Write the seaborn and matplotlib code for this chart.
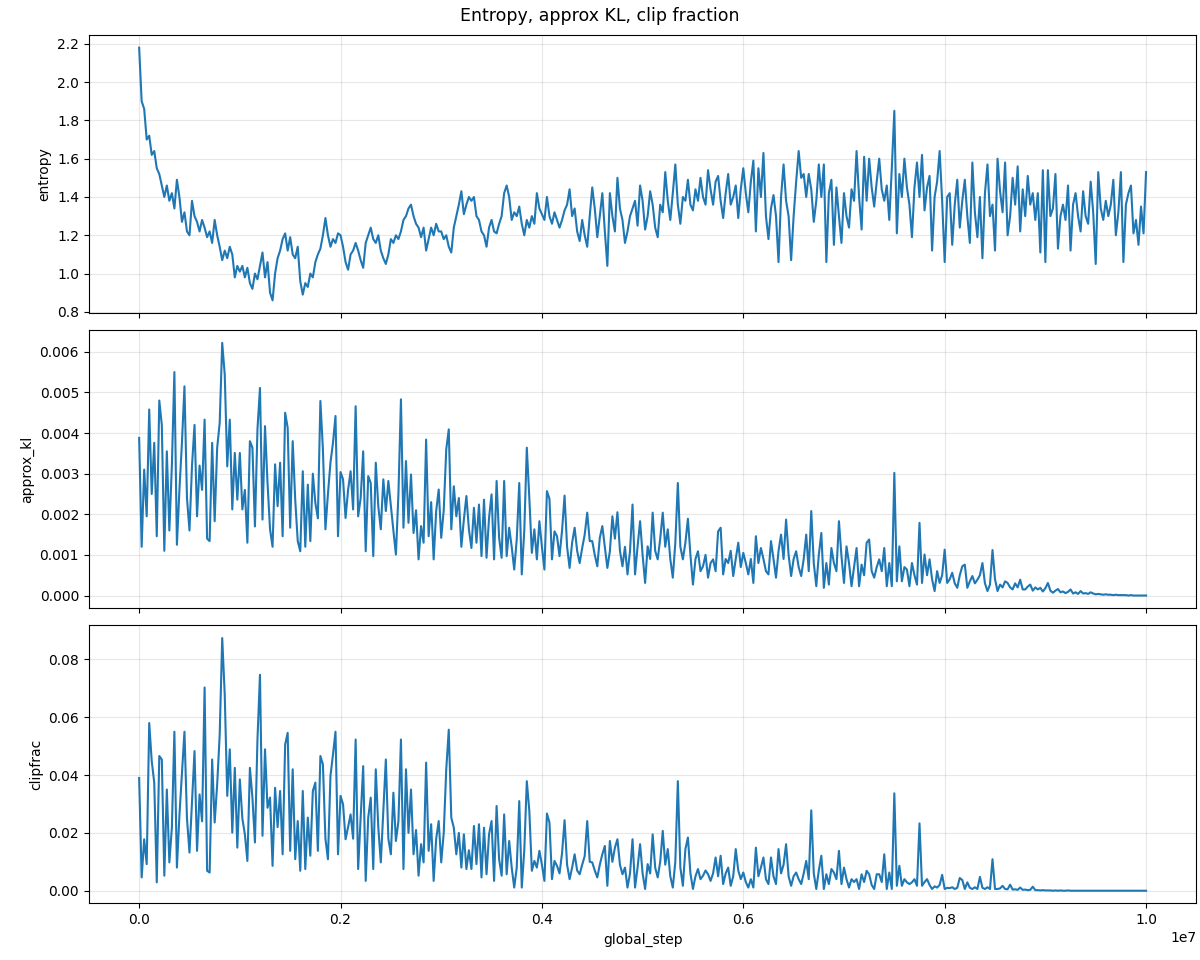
import numpy as np
import pandas as pd
import matplotlib
matplotlib.use("Agg")
import matplotlib.pyplot as plt
import seaborn as sns

total_steps = 10_000_000

entropy = [
    2.18, 1.90, 1.86, 1.70, 1.72, 1.62, 1.64, 1.55, 1.52, 1.46,
    1.40, 1.46, 1.38, 1.42, 1.34, 1.49, 1.40, 1.27, 1.32, 1.22,
    1.20, 1.38, 1.30, 1.27, 1.22, 1.28, 1.24, 1.19, 1.22, 1.16,
    1.28, 1.20, 1.14, 1.07, 1.12, 1.08, 1.14, 1.10, 0.98, 1.04,
    1.01, 1.04, 0.98, 1.03, 0.95, 0.92, 1.00, 0.97, 1.04, 1.11,
    0.98, 1.06, 0.90, 0.86, 1.00, 1.08, 1.12, 1.18, 1.21, 1.12,
    1.19, 1.10, 1.08, 1.14, 0.96, 0.89, 0.95, 0.93, 1.00, 0.98,
    1.06, 1.10, 1.13, 1.20, 1.29, 1.20, 1.14, 1.18, 1.16, 1.21,
    1.20, 1.14, 1.06, 1.02, 1.10, 1.12, 1.16, 1.12, 1.07, 1.03,
    1.16, 1.20, 1.24, 1.18, 1.16, 1.20, 1.12, 1.08, 1.05, 1.10,
    1.18, 1.16, 1.20, 1.18, 1.22, 1.28, 1.30, 1.34, 1.36, 1.30,
    1.26, 1.24, 1.19, 1.24, 1.12, 1.18, 1.24, 1.20, 1.26, 1.22,
    1.22, 1.18, 1.20, 1.14, 1.11, 1.24, 1.30, 1.36, 1.43, 1.31,
    1.36, 1.40, 1.38,
    1.40, 1.30, 1.28, 1.22, 1.20, 1.14, 1.24, 1.28, 1.22, 1.21,
    1.26, 1.30, 1.42, 1.46, 1.40, 1.28, 1.32, 1.30, 1.35, 1.26,
    1.20, 1.28, 1.24, 1.30, 1.26, 1.42, 1.34, 1.31, 1.28, 1.40,
    1.30, 1.26, 1.32, 1.28, 1.24, 1.28, 1.33, 1.36, 1.44, 1.30,
    1.34, 1.22, 1.17, 1.28, 1.20, 1.14, 1.30, 1.45, 1.34, 1.19,
    1.30, 1.42, 1.22, 1.04, 1.42, 1.30, 1.22, 1.50, 1.34, 1.28,
    1.16, 1.22, 1.30, 1.34, 1.38, 1.25, 1.46, 1.38, 1.23, 1.30,
    1.43, 1.36, 1.24, 1.19, 1.36, 1.32, 1.53, 1.38, 1.28, 1.42,
    1.57, 1.36, 1.26, 1.40, 1.38, 1.49, 1.36, 1.33, 1.44, 1.38,
    1.50, 1.40, 1.36, 1.54, 1.44, 1.36, 1.48, 1.51, 1.38, 1.29,
    1.42, 1.52, 1.36, 1.40, 1.46, 1.29, 1.44, 1.55, 1.42, 1.32,
    1.48, 1.59, 1.22, 1.55, 1.40, 1.63, 1.30, 1.18, 1.34, 1.41,
    1.30, 1.06, 1.40, 1.57, 1.38, 1.30, 1.07, 1.30, 1.48, 1.64,
    1.50, 1.52, 1.40, 1.52, 1.44, 1.27, 1.38, 1.57, 1.40, 1.57,
    1.06, 1.42, 1.49, 1.15, 1.45, 1.30, 1.16, 1.42, 1.30, 1.24,
    1.44, 1.38, 1.64, 1.40, 1.23, 1.61, 1.38, 1.60, 1.45, 1.35,
    1.48, 1.60, 1.44, 1.38, 1.46, 1.28, 1.55, 1.85, 1.21, 1.52,
    1.40, 1.60, 1.45, 1.36, 1.19, 1.45, 1.58, 1.40, 1.62, 1.33,
    1.45, 1.51, 1.12, 1.40, 1.48, 1.64, 1.38, 1.06, 1.40, 1.42,
    1.15, 1.36, 1.49, 1.24, 1.38, 1.49, 1.30, 1.16, 1.58, 1.32,
    1.19, 1.40, 1.08, 1.42, 1.57, 1.30, 1.36, 1.12, 1.60, 1.43,
    1.32, 1.58, 1.20, 1.30, 1.50, 1.36, 1.56, 1.22, 1.44, 1.30,
    1.51, 1.36, 1.42, 1.28, 1.42, 1.11, 1.54, 1.06, 1.54, 1.30,
    1.34, 1.52, 1.13, 1.30, 1.36, 1.28, 1.46, 1.12, 1.36, 1.42,
    1.30, 1.22, 1.43, 1.30, 1.26, 1.48, 1.32, 1.05, 1.53, 1.34,
    1.28, 1.38, 1.30, 1.36, 1.49, 1.20, 1.32, 1.53, 1.06, 1.36,
    1.42, 1.46, 1.21, 1.28, 1.15, 1.35, 1.21, 1.53,
]

# approx_kl in units of 1e-3
approx_kl_milli = [
    3.88, 1.20, 3.10, 1.95, 4.58, 2.50, 3.76, 1.46, 4.80, 4.20,
    1.10, 3.55, 1.60, 3.20, 5.50, 1.25, 2.60, 3.76, 5.15, 2.40,
    1.60, 3.20, 4.20, 1.95, 3.20, 2.60, 4.33, 1.40, 1.34, 3.76,
    1.83, 3.64, 4.25, 6.22, 5.44, 3.18, 4.33, 2.12, 3.51, 2.36,
    3.51, 2.12, 2.60, 1.30, 3.80, 3.64, 1.70, 4.09, 5.11, 1.87,
    4.17, 2.77, 1.63, 1.20, 3.23, 2.20, 3.27, 1.46, 4.50, 4.13,
    1.67, 3.80, 2.36, 1.34, 1.09, 3.06, 1.20, 2.73, 1.34, 3.00,
    2.28, 1.90, 4.79, 3.60, 1.63, 2.50, 3.27, 3.76, 4.42, 1.46,
    3.04, 2.86, 1.91, 2.60, 3.06, 2.12, 4.66, 1.95, 2.40, 3.55,
    1.09, 2.94, 2.77, 0.97, 3.27, 2.20, 1.63, 2.86, 2.08, 2.82,
    2.20, 1.60, 1.01, 2.50, 4.83, 1.67, 3.31, 1.79, 2.98, 1.54,
    2.10, 0.89, 1.71, 1.30, 3.84, 1.46, 2.30, 0.89, 2.08, 2.61,
    1.42, 2.10, 3.60, 4.09, 1.63, 2.69, 1.95, 2.40, 1.20, 1.87,
    2.45, 1.63, 1.17,
    2.16, 1.30, 2.24, 0.97, 2.36, 0.93, 1.91, 2.49, 0.89, 2.82,
    1.42, 0.93, 2.82, 0.97, 1.67, 1.20, 0.64, 1.38, 2.77, 0.52,
    1.60, 3.64, 2.40, 1.05, 1.63, 0.89, 1.83, 1.20, 0.64, 2.57,
    2.38, 0.89, 1.58, 1.46, 0.97, 1.60, 2.46, 1.20, 0.68, 1.30,
    1.67, 1.10, 0.80, 1.17, 1.50, 2.04, 1.34, 1.34, 1.00, 0.72,
    1.42, 1.71, 1.20, 0.68, 1.09, 1.95, 1.40, 2.05, 1.10, 0.72,
    1.20, 0.52, 1.10, 2.24, 0.52, 1.20, 1.83, 1.00, 0.31, 1.21,
    0.90, 2.04, 1.10, 0.89, 1.40, 2.04, 1.20, 1.63, 0.90, 0.44,
    1.30, 2.77, 1.20, 0.89, 1.30, 1.89, 1.00, 0.27, 0.90, 1.09,
    0.60, 0.72, 1.00, 0.44, 0.80, 0.89, 0.60, 1.58, 1.67, 0.52,
    0.90, 0.80, 1.10, 0.48, 0.90, 1.30, 0.70, 1.05, 0.80, 0.52,
    0.90, 0.31, 1.46, 0.80, 1.17, 0.90, 0.60, 0.52, 1.34, 0.90,
    0.44, 1.10, 1.50, 0.90, 1.87, 1.00, 0.48, 0.90, 1.09, 0.70,
    0.48, 0.90, 1.50, 0.60, 2.08, 0.80, 0.23, 1.00, 1.54, 0.19,
    0.80, 0.27, 1.17, 0.80, 0.60, 1.83, 0.97, 0.31, 1.21, 0.80,
    0.23, 0.70, 1.17, 0.23, 0.76, 0.50, 1.30, 1.38, 0.60, 0.44,
    0.70, 0.89, 0.60, 1.17, 0.23, 0.80, 0.23, 3.02, 0.35, 1.21,
    0.35, 0.70, 0.64, 0.23, 0.80, 0.50, 0.27, 1.79, 0.31, 1.01,
    0.50, 0.89, 0.40, 0.11, 0.60, 0.31, 0.50, 1.13, 0.31, 0.40,
    0.56, 0.30, 0.19, 0.50, 0.72, 0.76, 0.19, 0.35, 0.48, 0.30,
    0.39, 0.50, 0.80, 0.30, 0.11, 0.27, 1.12, 0.40, 0.11, 0.27,
    0.20, 0.35, 0.31, 0.20, 0.15, 0.30, 0.20, 0.39, 0.15, 0.15,
    0.22, 0.27, 0.12, 0.20, 0.15, 0.19, 0.10, 0.18, 0.31, 0.12,
    0.07, 0.12, 0.16, 0.08, 0.10, 0.06, 0.09, 0.15, 0.05, 0.08,
    0.04, 0.11, 0.05, 0.06, 0.04, 0.08, 0.05, 0.03, 0.04, 0.03,
    0.02, 0.03, 0.02, 0.02, 0.01, 0.02, 0.01, 0.01, 0.01, 0.01,
    0.00, 0.01, 0.00, 0.00, 0.00, 0.00, 0.00, 0.00,
]

# clipfrac in percent
clipfrac_pct = [
    3.90, 0.46, 1.78, 0.92, 5.80, 4.48, 3.74, 0.29, 4.66, 4.54,
    0.52, 3.50, 0.98, 2.18, 5.50, 0.80, 2.60, 4.02, 5.50, 2.50,
    1.32, 3.05, 4.83, 1.38, 3.33, 2.40, 7.03, 0.69, 0.63, 4.54,
    2.36, 3.68, 5.40, 8.74, 6.78, 3.28, 4.89, 2.01, 4.25, 1.49,
    3.85, 2.50, 1.95, 1.03, 4.25, 3.22, 1.67, 5.23, 7.47, 1.90,
    4.89, 2.87, 3.22, 0.86, 3.56, 2.20, 3.45, 1.26, 5.06, 5.46,
    1.38, 4.20, 1.09, 2.41, 0.69, 3.45, 0.75, 2.53, 1.21, 3.45,
    3.74, 1.38, 4.66, 4.37, 1.80, 1.09, 3.97, 4.71, 5.50, 1.26,
    3.28, 2.99, 1.78, 2.20, 2.64, 1.80, 5.23, 0.75, 2.53, 4.31,
    0.34, 2.53, 3.22, 0.75, 4.20, 2.20, 0.98, 2.80, 4.54, 1.80,
    1.26, 3.39, 1.72, 2.40, 5.23, 0.75, 4.20, 2.00, 3.50, 1.26,
    2.10, 0.52, 1.61, 0.98, 4.43, 1.38, 2.30, 0.34, 1.80, 2.41,
    0.98, 2.00, 4.20, 5.57, 2.53, 2.18, 1.26, 2.00, 0.80, 1.95,
    0.75, 1.40, 0.75,
    2.24, 0.92, 2.30, 0.46, 2.18, 0.57, 1.95, 2.41, 0.34, 2.93,
    1.09, 0.52, 2.64, 0.57, 1.72, 0.80, 0.11, 0.80, 3.10, 0.11,
    1.40, 3.79, 2.76, 0.69, 1.03, 0.80, 1.38, 0.90, 0.34, 2.67,
    2.36, 0.40, 1.03, 0.86, 0.60, 1.30, 2.44, 0.90, 0.40, 0.80,
    1.26, 0.70, 0.57, 0.90, 1.20, 2.41, 1.00, 0.98, 0.70, 0.46,
    0.90, 1.26, 1.55, 0.17, 1.72, 1.00, 1.49, 1.78, 0.90, 0.57,
    0.80, 0.11, 0.60, 1.78, 0.11, 0.80, 1.61, 0.60, 0.06, 0.92,
    0.60, 1.95, 0.80, 0.46, 1.00, 2.07, 0.90, 1.44, 0.50, 0.11,
    1.00, 3.79, 0.80, 0.17, 1.44, 1.84, 0.60, 0.06, 0.50, 0.75,
    0.40, 0.52, 0.70, 0.57, 0.34, 0.60, 1.15, 0.50, 1.21, 0.23,
    0.60, 0.80, 0.17, 0.50, 1.44, 0.70, 0.40, 0.63, 0.30, 0.11,
    0.40, 0.11, 1.49, 0.50, 0.80, 1.15, 0.40, 0.23, 1.15, 0.50,
    0.23, 1.44, 0.60, 0.90, 1.61, 0.50, 0.17, 0.50, 0.63, 0.40,
    0.23, 0.60, 1.03, 0.40, 2.78, 0.60, 0.06, 0.70, 1.21, 0.06,
    0.57, 0.23, 0.75, 0.63, 0.40, 1.38, 0.23, 0.80, 0.40, 0.11,
    0.40, 0.30, 0.40, 0.06, 0.57, 0.30, 0.69, 0.57, 0.20, 0.06,
    0.57, 0.57, 0.30, 1.26, 0.06, 0.63, 0.06, 3.37, 0.17, 0.86,
    0.17, 0.40, 0.29, 0.23, 0.29, 0.40, 0.17, 2.33, 0.17, 0.30,
    0.40, 0.20, 0.06, 0.15, 0.11, 0.20, 0.55, 0.06, 0.10, 0.09,
    0.12, 0.06, 0.10, 0.44, 0.37, 0.06, 0.29, 0.10, 0.06, 0.12,
    0.06, 0.48, 0.10, 0.06, 0.12, 0.06, 1.09, 0.06, 0.06, 0.08,
    0.17, 0.06, 0.05, 0.21, 0.04, 0.05, 0.03, 0.11, 0.03, 0.04,
    0.02, 0.03, 0.14, 0.02, 0.02, 0.01, 0.02, 0.01, 0.01, 0.01,
    0.00, 0.01, 0.00, 0.01, 0.00, 0.00, 0.01, 0.00,
    0.00, 0.00, 0.00, 0.00, 0.00, 0.00, 0.00, 0.00, 0.00, 0.00,
    0.00, 0.00, 0.00, 0.00, 0.00, 0.00, 0.00, 0.00, 0.00, 0.00,
    0.00, 0.00, 0.00, 0.00, 0.00, 0.00, 0.00, 0.00, 0.00, 0.00,
]


def frame(values, scale, name):
    vals = np.asarray(values, dtype=float) * scale
    steps = np.linspace(0, total_steps, len(vals))
    return pd.DataFrame({"global_step": steps, name: vals})


panels = [
    (frame(entropy, 1.0, "entropy"), "entropy", [0.8, 1.0, 1.2, 1.4, 1.6, 1.8, 2.0, 2.2]),
    (frame(approx_kl_milli, 1e-3, "approx_kl"), "approx_kl",
     [0.0, 0.001, 0.002, 0.003, 0.004, 0.005, 0.006]),
    (frame(clipfrac_pct, 1e-2, "clipfrac"), "clipfrac", [0.0, 0.02, 0.04, 0.06, 0.08]),
]

plt.rcParams["font.family"] = ["DejaVu Sans"]

fig, axes = plt.subplots(3, 1, figsize=(12, 9.6), dpi=100, sharex=True)
fig.subplots_adjust(left=0.074, right=0.997, top=0.9635, bottom=0.059, hspace=0.062)

for ax, (df, col, yt) in zip(axes, panels):
    sns.lineplot(data=df, x="global_step", y=col, ax=ax, color="#1f77b4",
                 linewidth=1.5, errorbar=None)
    ax.grid(True, alpha=0.3)
    ax.set_ylabel(col)
    ax.set_xlabel("")
    ax.set_yticks(yt)

axes[2].set_xlabel("global_step")

fig.suptitle("Entropy, approx KL, clip fraction", fontsize=12.5, y=0.993)

fig.savefig("out.png", dpi=100)
